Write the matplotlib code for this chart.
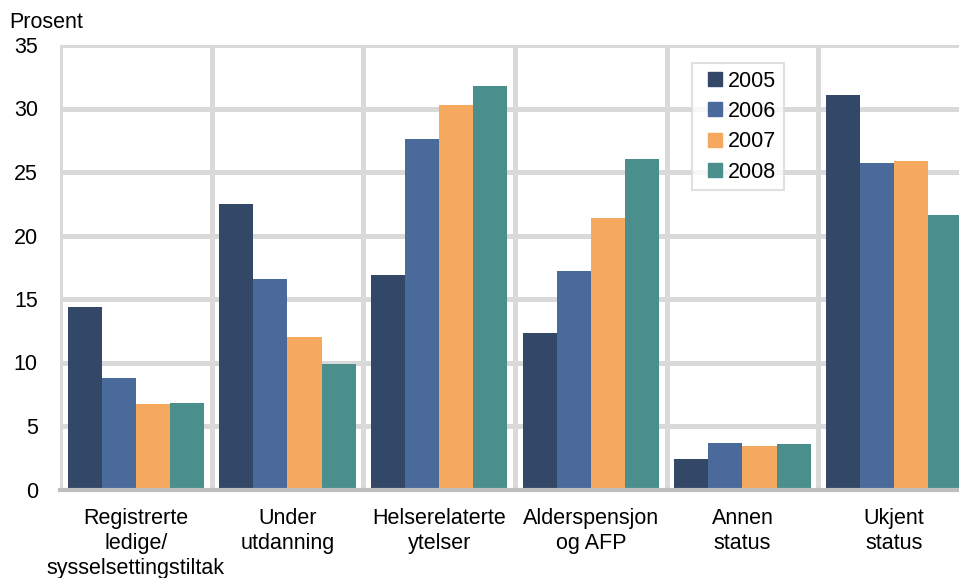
import matplotlib
matplotlib.use('Agg')
import matplotlib.pyplot as plt
from matplotlib.lines import Line2D
import numpy as np

plt.rcParams['font.family'] = ['Liberation Sans', 'DejaVu Sans']

categories = ['Registrerte\nledige/\nsysselsettingstiltak', 'Under\nutdanning',
              'Helserelaterte\nytelser', 'Alderspensjon\nog AFP', 'Annen\nstatus',
              'Ukjent\nstatus']
years = ['2005', '2006', '2007', '2008']
v2005 = [14.4, 22.5, 16.9, 12.3, 2.4, 31.1]
v2006 = [8.8, 16.6, 27.6, 17.2, 3.7, 25.7]
v2007 = [6.7, 12.0, 30.3, 21.4, 3.4, 25.85]
v2008 = [6.85, 9.85, 31.75, 26.0, 3.55, 21.65]
colors = ['#334767', '#4a6a9b', '#f5a95e', '#4a8f8c']

fs = 15.5
fig = plt.figure(figsize=(9.59, 5.78), dpi=100)
ax = fig.add_axes([60 / 959, 1 - 489.5 / 578, 910 / 959, 444.5 / 578])

x = np.arange(len(categories))
w = 0.225
for i, vals in enumerate([v2005, v2006, v2007, v2008]):
    ax.bar(x + (i - 1.5) * w, vals, w, color=colors[i], zorder=3)

ax.set_xlim(-0.5, len(categories) - 0.5)
ax.set_ylim(0, 35)
ax.set_yticks(range(0, 36, 5))
ax.set_xticks(x)
ax.set_xticklabels(categories, fontsize=fs, linespacing=1.25)
ax.set_xticks(np.arange(-0.5, len(categories), 1), minor=True)
ax.tick_params(axis='both', which='both', length=0, labelsize=fs)
ax.tick_params(axis='y', pad=16)
ax.tick_params(axis='x', pad=13)
ax.grid(axis='y', color='#d9d9d9', linewidth=3.6, zorder=0)
ax.grid(axis='x', which='minor', color='#d9d9d9', linewidth=3.6, zorder=0)
ax.grid(axis='x', which='major', visible=False)
for s in ['top', 'right', 'left']:
    ax.spines[s].set_visible(False)
ax.spines['bottom'].set_color('#bfbfbf')
ax.spines['bottom'].set_linewidth(3)
ax.spines['bottom'].set_zorder(4)

fig.text(9 / 959, 1 - 22 / 578, 'Prosent', fontsize=fs, va='center', ha='left')

# square markers as legend handles
handles = [Line2D([], [], linestyle='none', marker='s', markersize=10,
                  markerfacecolor=c, markeredgecolor=c) for c in colors]
leg = ax.legend(handles, years, loc='upper left',
                bbox_to_anchor=(692 / 959, 1 - 63 / 578),
                bbox_transform=fig.transFigure, fontsize=fs, frameon=True,
                fancybox=False, edgecolor='#d9d9d9', handlelength=1.43,
                handletextpad=-0.11, labelspacing=0.44,
                borderpad=0.35, borderaxespad=0)
leg.get_frame().set_linewidth(1.5)

fig.savefig('out.png', dpi=100)
